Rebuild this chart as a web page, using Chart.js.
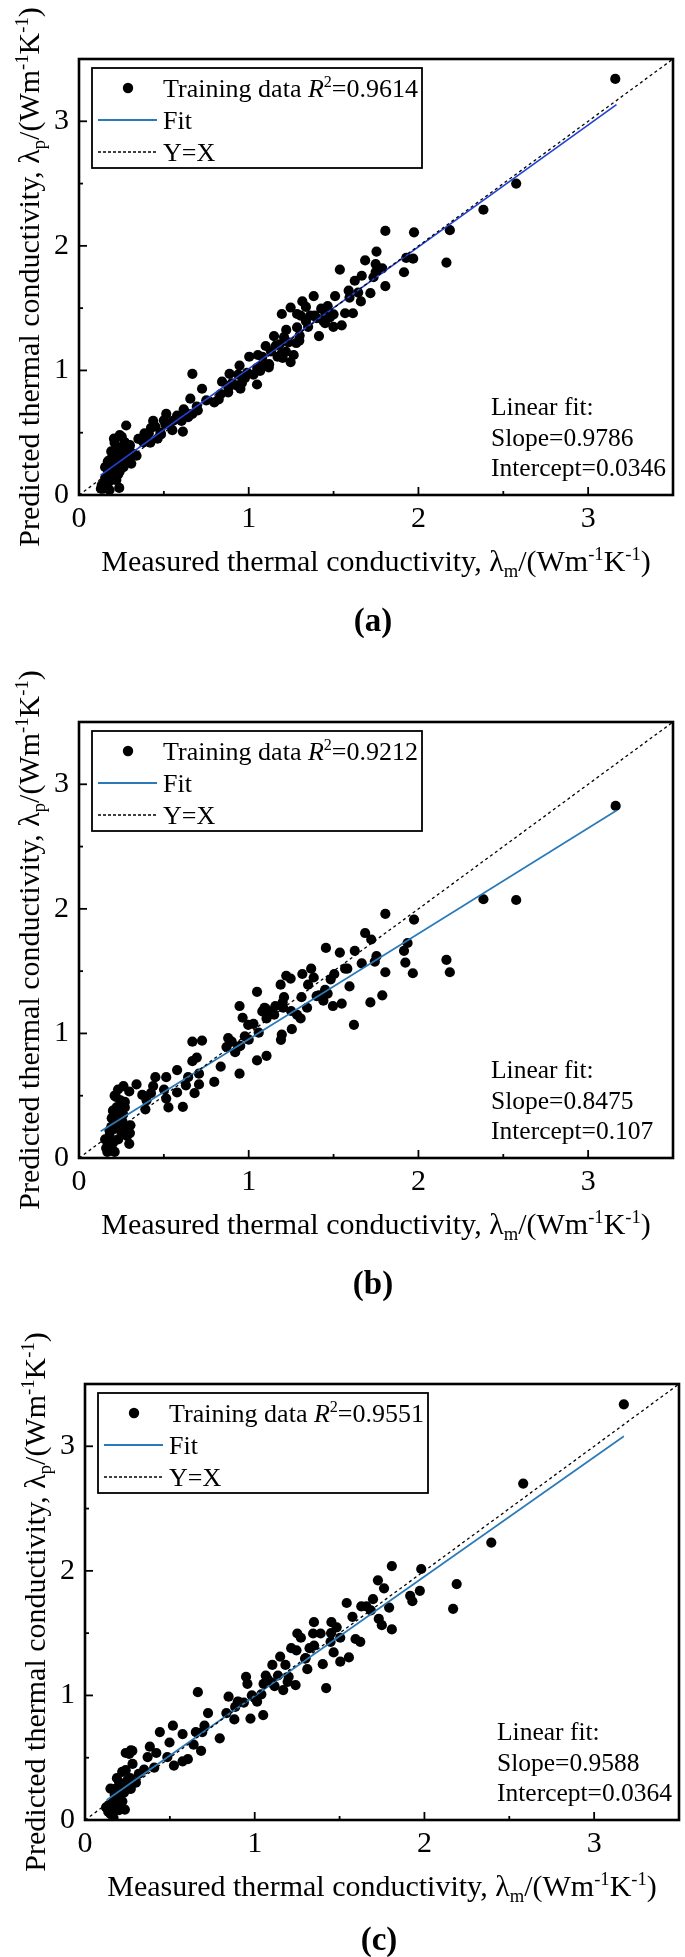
<!DOCTYPE html>
<html><head><meta charset="utf-8">
<script src="https://cdn.jsdelivr.net/npm/chart.js@4.4.1/dist/chart.umd.min.js"></script>
<style>
html,body{margin:0;padding:0;background:#fff;}
body{width:685px;height:1957px;position:relative;overflow:hidden;}
canvas{position:absolute;left:0;}
</style></head><body>
<canvas id="ca" width="685" height="663" style="top:0px"></canvas>
<canvas id="cb" width="685" height="663" style="top:663px"></canvas>
<canvas id="cc" width="685" height="632" style="top:1325px"></canvas>
<script>
// ---------- data ----------
const tickValues = [0, 0.5, 1, 1.5, 2, 2.5, 3, 3.5];
const tickLabels = ['0', '', '1', '', '2', '', '3', ''];
const diagX = [0, 3.5];
const diagY = [0, 3.5];

const aX = [3.16,2.576,2.383,2.185,2.165,1.974,1.969,1.928,1.915,1.805,1.805,1.753,1.787,1.748,1.735,1.717,1.686,1.666,1.661,1.625,1.614,1.589,1.594,1.568,1.537,1.548,1.509,1.499,1.465,1.452,1.44,1.414,1.383,1.362,1.337,1.316,1.306,1.285,1.298,1.285,1.247,1.265,1.247,1.221,1.195,1.208,1.183,1.195,1.17,1.149,1.131,1.1,1.093,1.08,1.054,1.049,1.028,0.99,0.977,0.946,0.938,0.925,0.887,0.879,0.843,0.835,0.797,0.725,0.694,0.668,0.656,0.643,0.617,0.612,0.578,0.553,0.514,0.509,0.483,0.437,0.424,0.386,0.38,0.339,0.296,0.278,0.27,0.252,0.231,0.206,0.21,0.193,0.18,0.167,0.237,0.129,0.154,0.2,0.262,0.288,1.337,1.388,1.478,1.427,1.234,1.118,1.003,1.067,0.9,0.951,0.823,0.604,0.668,0.463,0.411,0.308,0.231,0.18,0.218,0.154,0.134,0.257,1.748,1.645,
  0.15,0.17,0.19,0.2,0.22,0.24,0.25,0.19,0.21,0.23,0.26,0.28,0.3,0.32,0.17,0.14,0.18,0.22,0.27,0.24,0.35,0.39,0.42,0.45,0.5,0.48,0.55,0.6,0.63,0.7,0.75,1.12,1.16,1.22,1.3,1.35,1.4,1.45,1.5,1.05,0.96,0.88,1.2,1.28];
const aY = [3.34,2.5,2.29,2.126,1.866,2.109,1.897,1.903,1.788,2.12,1.677,1.954,1.82,1.79,1.748,1.62,1.883,1.76,1.554,1.72,1.459,1.64,1.585,1.459,1.81,1.362,1.597,1.35,1.516,1.453,1.396,1.276,1.597,1.44,1.51,1.554,1.44,1.453,1.239,1.345,1.505,1.124,1.067,1.325,1.453,1.268,1.21,1.139,1.11,1.276,1.153,1.196,1.053,1.11,1.124,0.887,0.967,0.981,0.938,1.039,0.967,0.881,0.973,0.824,0.91,0.81,0.744,0.853,0.71,0.973,0.773,0.624,0.687,0.509,0.638,0.595,0.652,0.567,0.486,0.595,0.538,0.495,0.423,0.315,0.38,0.558,0.423,0.466,0.295,0.452,0.338,0.252,0.166,0.08,0.057,0.051,0.137,0.315,0.223,0.295,1.396,1.44,1.425,1.496,1.225,1.024,1.11,0.996,0.896,0.853,0.767,0.595,0.652,0.452,0.495,0.252,0.166,0.28,0.38,0.223,0.08,0.352,1.854,1.625,
  0.1,0.2,0.12,0.22,0.26,0.19,0.3,0.35,0.42,0.38,0.28,0.35,0.4,0.33,0.27,0.05,0.04,0.12,0.42,0.48,0.45,0.47,0.42,0.55,0.6,0.5,0.52,0.62,0.66,0.68,0.76,1.05,1.2,1.15,1.28,1.35,1.42,1.38,1.45,1.02,0.9,0.86,1.1,1.22];

const bX = [3.162,2.383,2.576,2.185,2.165,1.974,1.967,1.936,1.923,1.915,1.805,1.805,1.787,1.753,1.743,1.722,1.717,1.686,1.666,1.625,1.62,1.594,1.581,1.568,1.548,1.537,1.504,1.496,1.483,1.465,1.455,1.44,1.414,1.383,1.368,1.35,1.344,1.316,1.311,1.306,1.285,1.247,1.254,1.221,1.208,1.203,1.195,1.19,1.188,1.157,1.131,1.105,1.105,1.093,1.08,1.059,1.049,1.049,1.028,0.997,0.977,0.964,0.946,0.946,0.938,0.92,0.9,0.879,0.869,0.835,0.797,0.725,0.707,0.707,0.694,0.681,0.668,0.668,0.643,0.63,0.612,0.578,0.578,0.514,0.514,0.527,0.501,0.45,0.437,0.424,0.398,0.391,0.373,0.339,0.296,0.303,0.296,0.283,0.262,0.27,0.257,0.244,0.231,0.218,0.21,0.2,0.193,0.18,0.167,0.154,0.21,0.231,0.252,0.221,
  0.17,0.19,0.2,0.22,0.24,0.26,0.28,0.18,0.21,0.23,0.25,0.3,0.27,0.16,1.15,1.2,1.25,1.1,1.4,1.45,0.95,1.0];
const bY = [2.826,2.077,2.071,1.491,1.591,1.914,1.483,1.726,1.569,1.663,1.96,1.491,1.306,1.62,1.577,1.754,1.249,1.806,1.563,1.663,1.069,1.377,1.52,1.52,1.24,1.649,1.477,1.22,1.434,1.32,1.686,1.263,1.306,1.449,1.52,1.391,1.206,1.477,1.291,1.12,1.149,1.44,1.034,1.463,1.291,1.206,0.991,0.949,1.391,1.22,1.177,1.12,0.82,1.206,1.177,1.006,1.334,0.783,1.077,1.069,0.977,1.126,1.22,0.677,0.891,0.849,0.934,0.963,0.891,0.734,0.611,0.943,0.677,0.591,0.806,0.52,0.934,0.777,0.649,0.583,0.411,0.526,0.706,0.649,0.477,0.406,0.549,0.649,0.577,0.52,0.463,0.391,0.506,0.591,0.534,0.263,0.114,0.177,0.577,0.406,0.291,0.463,0.349,0.491,0.234,0.12,0.32,0.22,0.049,0.149,0.049,0.149,0.206,0.406,
  0.1,0.25,0.38,0.3,0.42,0.35,0.22,0.18,0.5,0.55,0.27,0.2,0.45,0.08,1.15,1.25,1.18,1.2,1.3,1.35,0.9,0.95];

const cX = [3.175,2.582,2.394,2.19,2.169,1.981,1.973,1.929,1.916,1.808,1.808,1.762,1.726,1.792,1.749,1.731,1.697,1.684,1.658,1.628,1.622,1.594,1.576,1.555,1.542,1.504,1.504,1.483,1.465,1.452,1.447,1.421,1.401,1.388,1.349,1.344,1.323,1.31,1.297,1.272,1.251,1.246,1.241,1.215,1.194,1.181,1.168,1.15,1.137,1.117,1.104,1.078,1.065,1.052,1.05,1.039,1.014,0.983,0.975,0.957,0.949,0.936,0.905,0.885,0.88,0.846,0.833,0.725,0.794,0.704,0.691,0.665,0.684,0.653,0.64,0.606,0.575,0.575,0.518,0.524,0.498,0.485,0.441,0.42,0.408,0.382,0.369,0.348,0.317,0.279,0.26,0.24,0.235,0.219,0.201,0.188,0.175,0.162,0.15,0.137,0.124,0.168,0.193,0.214,0.24,0.183,0.266,
  0.15,0.17,0.19,0.21,0.23,0.25,0.2,0.22,0.27,0.3,0.18,0.24,0.28,0.26,0.27,0.14,1.1,1.2,1.3,1.35,1.45,1.0,0.9];
const cY = [3.337,2.701,2.227,1.894,1.695,2.015,1.84,1.756,1.8,2.038,1.53,1.86,1.924,1.705,1.564,1.615,1.773,1.682,1.715,1.715,1.43,1.453,1.631,1.305,1.742,1.271,1.463,1.547,1.345,1.588,1.43,1.059,1.251,1.497,1.588,1.497,1.379,1.211,1.295,1.463,1.497,1.362,1.083,1.379,1.109,1.245,1.043,1.312,1.16,1.075,1.245,1.127,1.16,1.093,0.842,1.009,0.95,1.0,0.814,1.093,1.15,0.943,0.949,0.908,0.807,0.99,0.858,0.858,0.656,0.757,0.706,1.026,0.555,0.706,0.605,0.488,0.69,0.471,0.757,0.437,0.622,0.505,0.706,0.538,0.42,0.589,0.505,0.404,0.37,0.555,0.252,0.538,0.084,0.387,0.303,0.336,0.202,0.135,0.252,0.067,0.101,0.017,0.151,0.219,0.269,0.101,0.336,
  0.05,0.15,0.2,0.28,0.22,0.32,0.08,0.15,0.25,0.3,0.25,0.4,0.45,0.53,0.56,0.12,1.1,1.15,1.3,1.4,1.5,0.98,0.95];

// fit-line endpoints
const aFitX = [0.128, 3.167], aFitY = [0.160, 3.134];
const bFitX = [0.128, 3.167], bFitY = [0.215, 2.790];
const cFitX = [0.128, 3.175], cFitY = [0.160, 3.080];

const r2Labels = ['0.9614', '0.9212', '0.9551'];
const slopeLabels = ['0.9786', '0.8475', '0.9588'];
const interceptLabels = ['0.0346', '0.107', '0.0364'];
const panelLabels = ['(a)', '(b)', '(c)'];
const panelLabelOffsets = [125, 125, 119];

// ---------- drawing helpers ----------
const FAM = "'Liberation Serif','Times New Roman',serif";
function segFont(s, size) {
  const sz = s.small ? size * 0.62 : size;
  return (s.italic ? 'italic ' : '') + (s.bold ? 'bold ' : '') + sz + 'px ' + FAM;
}
function richWidth(ctx, segs, size) {
  let w = 0;
  for (const s of segs) { ctx.font = segFont(s, size); w += ctx.measureText(s.t).width; }
  return w;
}
function drawRich(ctx, segs, x, y, size, align) {
  const w = richWidth(ctx, segs, size);
  let cx = align === 'center' ? x - w / 2 : x;
  ctx.textBaseline = 'alphabetic';
  ctx.textAlign = 'left';
  const base = y + size * 0.33;
  for (const s of segs) {
    ctx.font = segFont(s, size);
    let dy = 0;
    if (s.sup) dy = -size * 0.38;
    if (s.sub) dy = size * 0.2;
    ctx.fillText(s.t, cx, base + dy);
    cx += ctx.measureText(s.t).width;
  }
}
function pts(xs, ys) { return xs.map((v, i) => ({x: v, y: ys[i]})); }

function makeChart(id, i, xs, ys, fx, fy, fitColor, legendColor, padL, padR) {
  const canvas = document.getElementById(id);
  const H = canvas.height;
  const decor = {
    id: 'decor' + i,
    afterDraw(chart) {
      const {ctx, chartArea: {left, right, top, bottom}, scales: {x, y}} = chart;
      ctx.save();
      ctx.fillStyle = '#000';
      ctx.strokeStyle = '#000';
      // inward ticks
      ctx.lineWidth = 1.8;
      for (const v of tickValues) {
        if (v === 0 || v === 3.5) continue;
        const len = Number.isInteger(v) ? 8 : 4;
        const px = x.getPixelForValue(v);
        ctx.beginPath(); ctx.moveTo(px, bottom); ctx.lineTo(px, bottom - len); ctx.stroke();
        const py = y.getPixelForValue(v);
        ctx.beginPath(); ctx.moveTo(left, py); ctx.lineTo(left + len, py); ctx.stroke();
      }
      // frame
      ctx.lineWidth = 2.6;
      ctx.strokeRect(left, top, right - left, bottom - top);
      // legend box
      const lx = left + 13, ly = top + 9;
      ctx.lineWidth = 1.8;
      ctx.strokeRect(lx, ly, 330, 100);
      const fs = 26;
      ctx.beginPath(); ctx.arc(lx + 36, ly + 20, 5.2, 0, Math.PI * 2); ctx.fill();
      drawRich(ctx, [{t: 'Training data '}, {t: 'R', italic: true}, {t: '2', small: true, sup: true}, {t: '=' + r2Labels[i]}], lx + 71, ly + 20, fs, 'left');
      ctx.strokeStyle = legendColor; ctx.lineWidth = 2;
      ctx.beginPath(); ctx.moveTo(lx + 6, ly + 52); ctx.lineTo(lx + 65, ly + 52); ctx.stroke();
      drawRich(ctx, [{t: 'Fit'}], lx + 71, ly + 52, fs, 'left');
      ctx.strokeStyle = '#000'; ctx.lineWidth = 1.5; ctx.setLineDash([3, 2]);
      ctx.beginPath(); ctx.moveTo(lx + 6, ly + 84); ctx.lineTo(lx + 65, ly + 84); ctx.stroke();
      ctx.setLineDash([]);
      drawRich(ctx, [{t: 'Y=X'}], lx + 71, ly + 84, fs, 'left');
      // linear fit annotation
      const ax = left + 412, afs = 25.5;
      drawRich(ctx, [{t: 'Linear fit:'}], ax, bottom - 88, afs, 'left');
      drawRich(ctx, [{t: 'Slope=' + slopeLabels[i]}], ax, bottom - 57.5, afs, 'left');
      drawRich(ctx, [{t: 'Intercept=' + interceptLabels[i]}], ax, bottom - 27, afs, 'left');
      // x title
      const tfs = 30;
      const xt = [{t: 'Measured thermal conductivity, λ'}, {t: 'm', small: true, sub: true}, {t: '/(Wm'}, {t: '-1', small: true, sup: true}, {t: 'K'}, {t: '-1', small: true, sup: true}, {t: ')'}];
      drawRich(ctx, xt, (left + right) / 2, bottom + 66, tfs, 'center');
      // y title
      const yt = [{t: 'Predicted thermal conductivity, λ'}, {t: 'p', small: true, sub: true}, {t: '/(Wm'}, {t: '-1', small: true, sup: true}, {t: 'K'}, {t: '-1', small: true, sup: true}, {t: ')'}];
      ctx.save();
      ctx.translate(left - 50, (top + bottom) / 2);
      ctx.rotate(-Math.PI / 2);
      drawRich(ctx, yt, 0, 0, tfs, 'center');
      ctx.restore();
      // panel label
      drawRich(ctx, [{t: panelLabels[i], bold: true}], (left + right) / 2 - 3, bottom + panelLabelOffsets[i], 33, 'center');
      ctx.restore();
    }
  };
  const tickFont = {family: FAM, size: 30};
  return new Chart(canvas, {
    type: 'scatter',
    data: {
      datasets: [
        {type: 'line', data: pts(fx, fy), borderColor: fitColor, borderWidth: 1.7, pointRadius: 0, order: 1, fill: false},
        {type: 'line', data: pts(diagX, diagY), borderColor: '#000', borderWidth: 1.3, borderDash: [3, 3], pointRadius: 0, order: 0, fill: false},
        {data: pts(xs, ys), backgroundColor: '#000', borderColor: '#000', borderWidth: 0, pointRadius: 5.1, order: 2}
      ]
    },
    options: {
      responsive: false, animation: false, devicePixelRatio: 1,
      layout: {autoPadding: false, padding: {left: padL, right: padR, top: 59, bottom: H - 495 - 60}},
      plugins: {legend: {display: false}, tooltip: {enabled: false}},
      scales: {
        x: {type: 'linear', min: 0, max: 3.5,
          afterBuildTicks: s => { s.ticks = tickValues.map(v => ({value: v})); },
          afterFit: s => { s.height = 60; },
          grid: {display: false, drawTicks: false}, border: {display: false},
          ticks: {font: tickFont, color: '#000', padding: 6, maxRotation: 0, autoSkip: false,
            callback: (v) => tickLabels[tickValues.indexOf(v)] ?? ''}},
        y: {type: 'linear', min: 0, max: 3.5,
          afterBuildTicks: s => { s.ticks = tickValues.map(v => ({value: v})); },
          afterFit: s => { s.width = 79; },
          grid: {display: false, drawTicks: false}, border: {display: false},
          ticks: {font: tickFont, color: '#000', padding: 10, autoSkip: false,
            callback: (v) => tickLabels[tickValues.indexOf(v)] ?? ''}}
      }
    },
    plugins: [decor]
  });
}

makeChart('ca', 0, aX, aY, aFitX, aFitY, '#2342d4', '#2a7ab9', 0, 12);
makeChart('cb', 1, bX, bY, bFitX, bFitY, '#2a7ab9', '#2a7ab9', 0, 12);
makeChart('cc', 2, cX, cY, cFitX, cFitY, '#2a7ab9', '#2a7ab9', 6, 5);
</script>
</body></html>
